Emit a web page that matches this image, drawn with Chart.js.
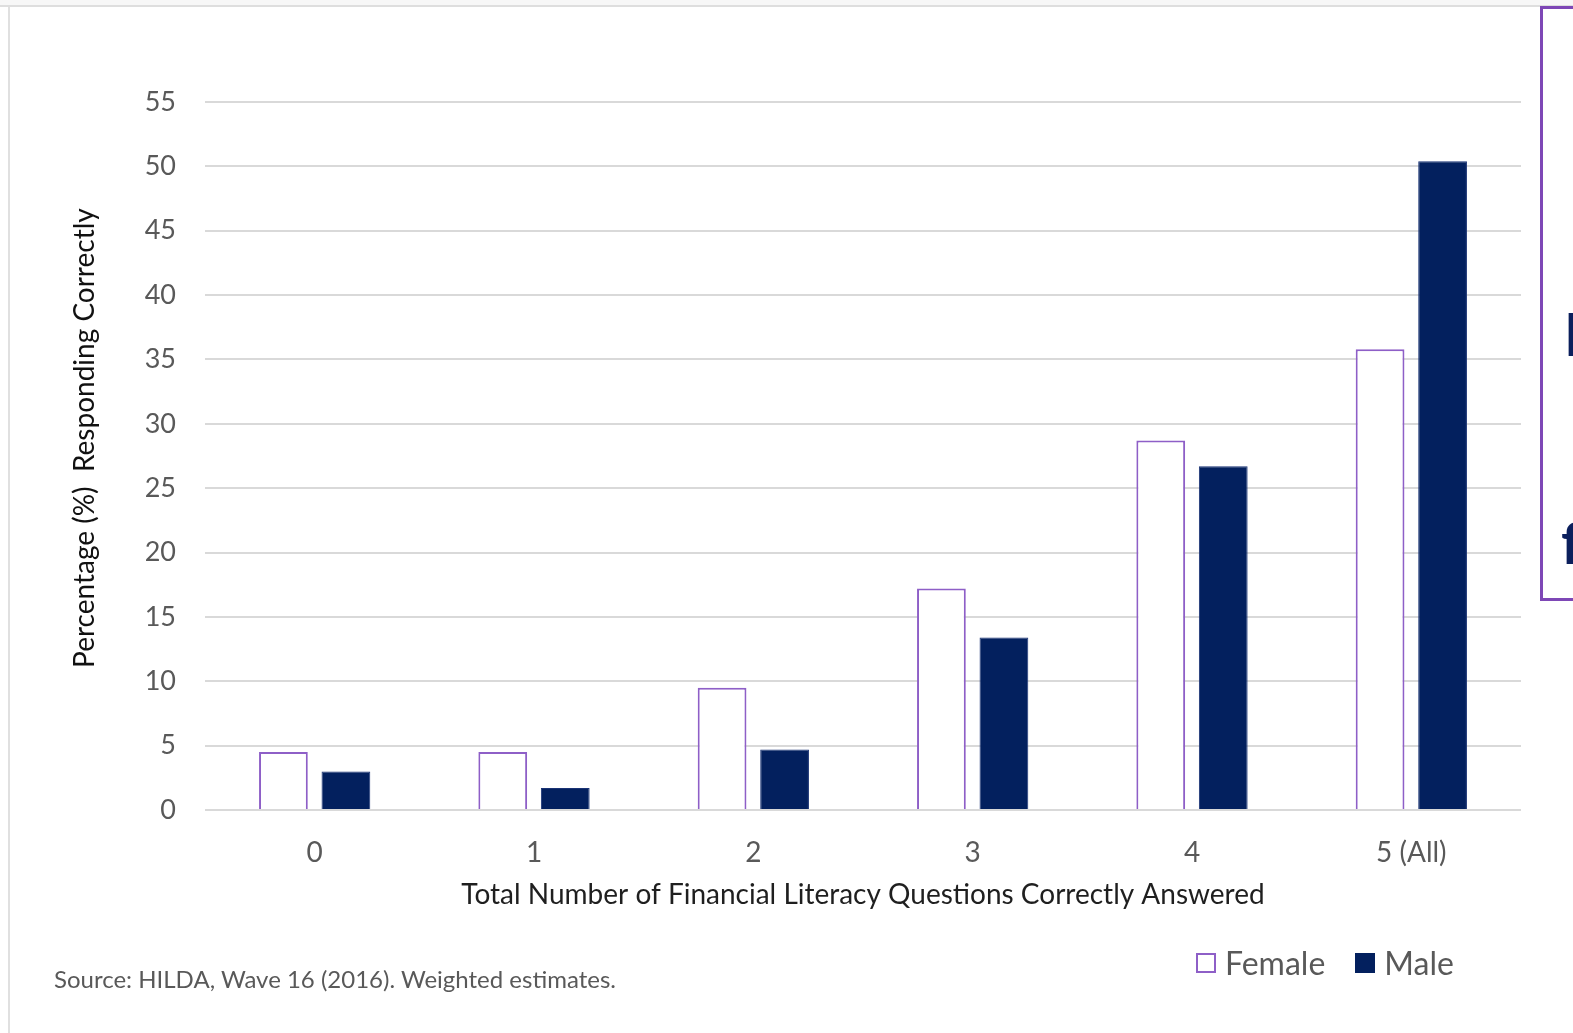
<!DOCTYPE html>
<html>
<head>
<meta charset="utf-8">
<script src="https://cdn.jsdelivr.net/npm/chart.js@4.4.1/dist/chart.umd.min.js"></script>
<style>
  html, body { margin: 0; padding: 0; background: #fff; }
  body { width: 1573px; height: 1033px; position: relative; overflow: hidden; font-family: Lato, sans-serif; }
  #topbar { position: absolute; left: 0; top: 0; width: 1573px; height: 5px; background: #f7f7f7; border-bottom: 2px solid #dedede; }
  #frame { position: absolute; left: 8px; top: 7px; width: 1600px; height: 1100px; border-left: 2px solid #e0e0e0; }
  #wrap { position: absolute; left: 0; top: 0; width: 1573px; height: 1033px; }
  #source { position: absolute; left: 54px; top: 964px; font-size: 24px; color: #595959; white-space: nowrap; }
  #legend { position: absolute; left: 1196px; top: 943px; font-size: 32px; color: #595959; display: flex; align-items: center; white-space: nowrap; }
  #legend .sw { display: inline-block; width: 20px; height: 20px; margin-right: 9px; box-sizing: border-box; }
  #legend .item { display: flex; align-items: center; margin-right: 30px; }
  #sidebox { position: absolute; left: 1540px; top: 6px; width: 100px; height: 589px; border: 3px solid #7e47b6; overflow: hidden; color: #0b1f5c; font-weight: 700; font-size: 58px; }
  #sidebox span { position: absolute; line-height: 1; }
</style>
</head>
<body>
<div id="topbar"></div>
<div id="frame"></div>
<div id="wrap"><canvas id="chart" width="1573" height="1033"></canvas></div>
<div id="source">Source: HILDA, Wave 16 (2016). Weighted estimates.</div>
<div id="legend">
  <div class="item"><span class="sw" style="border:2px solid #8e5fc7;background:#fff"></span>Female</div>
  <div class="item"><span class="sw" style="background:#03205e"></span>Male</div>
</div>
<div id="sidebox"><span style="left:22px;top:296px">l</span><span style="left:18px;top:504px">f</span></div>
<script>
const categories = ['0', '1', '2', '3', '4', '5 (All)'];
const femaleValues = [4.5, 4.5, 9.5, 17.2, 28.7, 35.8];
const maleValues = [3.0, 1.7, 4.7, 13.4, 26.7, 50.4];
const yTicks = [0, 5, 10, 15, 20, 25, 30, 35, 40, 45, 50, 55];

const gridGrey = '#d9d9d9';
const labelGrey = '#595959';

const ctx = document.getElementById('chart').getContext('2d');
new Chart(ctx, {
    type: 'bar',
    data: {
        labels: categories,
        datasets: [
            {
                label: 'Female',
                data: femaleValues,
                backgroundColor: '#ffffff',
                borderColor: '#8e5fc7',
                borderWidth: 2,
                barPercentage: 0.78,
                categoryPercentage: 0.57
            },
            {
                label: 'Male',
                data: maleValues,
                backgroundColor: '#03205e',
                borderColor: '#1a3375',
                borderWidth: 1,
                barPercentage: 0.78,
                categoryPercentage: 0.57
            }
        ]
    },
    options: {
        responsive: false,
        animation: false,
        layout: {
            padding: { left: 68, right: 52, top: 102, bottom: 121 }
        },
        plugins: {
            legend: { display: false },
            tooltip: { enabled: false }
        },
        scales: {
            x: {
                grid: { display: false },
                border: { display: false },
                ticks: {
                    color: labelGrey,
                    font: { family: 'Lato', size: 28 },
                    padding: 18
                },
                title: {
                    display: true,
                    text: 'Total Number of Financial Literacy Questions Correctly Answered',
                    color: '#1f1f1f',
                    font: { family: 'Lato', size: 28 },
                    padding: { top: 0, bottom: 0 }
                },
                afterFit: (scale) => { scale.height = 102; }
            },
            y: {
                min: 0,
                max: 55,
                afterBuildTicks: (scale) => {
                    scale.ticks = yTicks.map(v => ({ value: v }));
                },
                grid: {
                    color: gridGrey,
                    lineWidth: 2,
                    drawTicks: false
                },
                border: { display: false },
                ticks: {
                    color: labelGrey,
                    font: { family: 'Lato', size: 27 },
                    padding: 29
                },
                title: {
                    display: true,
                    // leading spaces nudge the rotated title up the axis
                    text: '     Percentage (%)  Responding Correctly',
                    color: '#111111',
                    font: { family: 'Lato', size: 28 },
                    padding: { top: 0, bottom: 0 }
                },
                afterFit: (scale) => { scale.width = 137; }
            }
        }
    }
});
</script>
</body>
</html>
